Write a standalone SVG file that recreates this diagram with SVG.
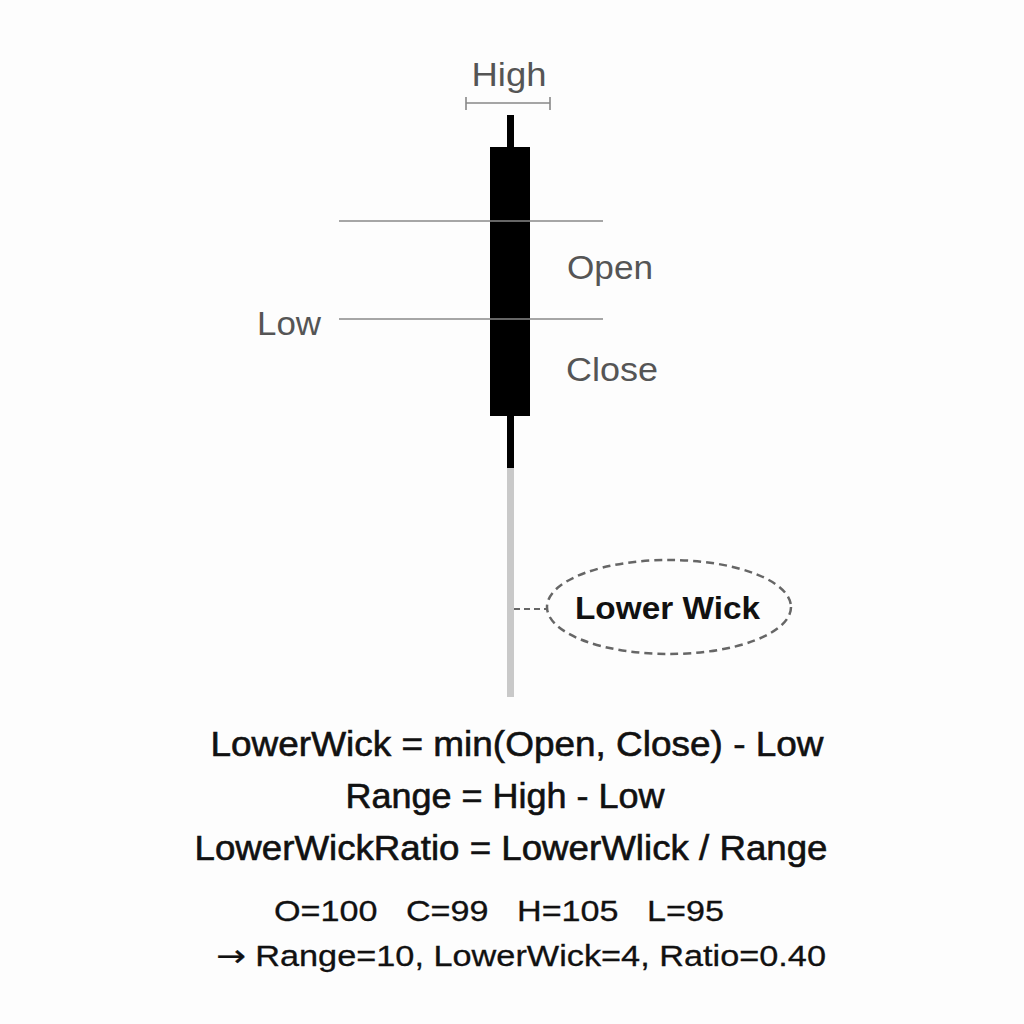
<svg xmlns="http://www.w3.org/2000/svg" width="1024" height="1024" viewBox="0 0 1024 1024">
<style>
.lbl{font-family:"Liberation Sans",Arial,sans-serif;font-size:34px;fill:#555}
.f{font-family:"Liberation Sans",Arial,sans-serif;font-size:35px;fill:#111;stroke:#111;stroke-width:0.6;text-anchor:middle}
.ex{font-family:"Liberation Sans",Arial,sans-serif;font-size:29px;fill:#111;stroke:#111;stroke-width:0.3}
.guide{stroke:#888;stroke-width:1.6;fill:none}
</style>
<rect width="1024" height="1024" fill="#fdfdfd"/>
<g id="candle">
<rect x="507" y="115" width="7" height="33" fill="#000"/>
<rect x="490" y="147" width="40" height="269" fill="#000"/>
<rect x="507" y="415" width="7" height="53" fill="#000"/>
<rect x="507" y="468" width="7" height="229" fill="#c9c9c9"/>
</g>
<g id="high">
<text class="lbl" x="509" y="86" text-anchor="middle" textLength="75" lengthAdjust="spacingAndGlyphs">High</text>
<path class="guide" d="M466 103H550M466 97V110M550 97V110"/>
</g>
<g id="levels">
<line class="guide" x1="339" y1="221" x2="603" y2="221"/>
<line class="guide" x1="339" y1="319" x2="603" y2="319"/>
<text class="lbl" x="567" y="279" textLength="86" lengthAdjust="spacingAndGlyphs">Open</text>
<text class="lbl" x="257" y="335" textLength="64" lengthAdjust="spacingAndGlyphs">Low</text>
<text class="lbl" x="566" y="381" textLength="92" lengthAdjust="spacingAndGlyphs">Close</text>
</g>
<g id="connectors">
<line x1="514" y1="609" x2="547" y2="609" stroke="#666" stroke-width="2.2" stroke-dasharray="6,4"/>
</g>
<g id="lower-wick">
<ellipse cx="669" cy="607" rx="122" ry="47" fill="none" stroke="#666" stroke-width="2.5" stroke-dasharray="8,5"/>
<text x="575" y="619" textLength="185" lengthAdjust="spacingAndGlyphs" style="font-family:'Liberation Sans',Arial,sans-serif;font-size:32px;font-weight:bold;fill:#111">Lower Wick</text>
</g>
<g id="formulas">
<text class="f" x="517" y="756" textLength="613" lengthAdjust="spacingAndGlyphs">LowerWick = min(Open, Close) - Low</text>
<text class="f" x="505" y="808" textLength="319" lengthAdjust="spacingAndGlyphs">Range = High - Low</text>
<text class="f" x="511" y="860" textLength="633" lengthAdjust="spacingAndGlyphs">LowerWickRatio = LowerWlick / Range</text>
<text class="ex" x="274" y="921" textLength="450" lengthAdjust="spacingAndGlyphs" xml:space="preserve">O=100   C=99   H=105   L=95</text>
<text class="ex" x="216" y="966" textLength="610" lengthAdjust="spacingAndGlyphs"><tspan style="font-family:'DejaVu Sans',sans-serif;font-size:30px">→</tspan> Range=10, LowerWick=4, Ratio=0.40</text>
</g>
</svg>
